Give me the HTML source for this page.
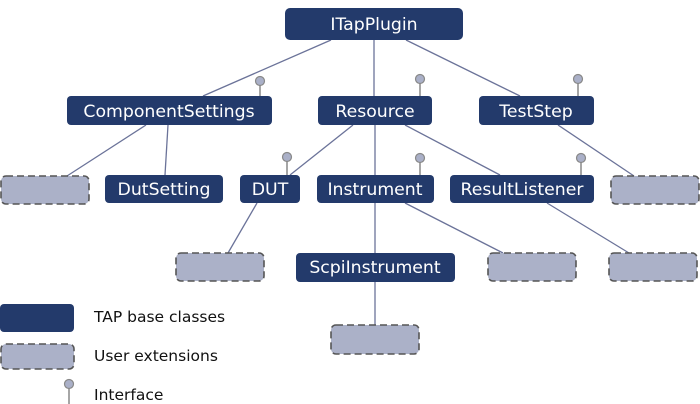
<!DOCTYPE html>
<html><head><style>
html,body{margin:0;padding:0;background:#fff;}
svg{display:block;}
text{font-family:"DejaVu Sans",Verdana,sans-serif;}
</style></head><body>
<svg width="700" height="404" viewBox="0 0 700 404" xmlns="http://www.w3.org/2000/svg">
<g stroke="#6b7399" stroke-width="1.3" fill="none">
<line x1="331" y1="40" x2="203" y2="96"/>
<line x1="374" y1="40" x2="374" y2="96"/>
<line x1="406" y1="40" x2="520" y2="96"/>
<line x1="146" y1="125" x2="67" y2="176"/>
<line x1="168" y1="125" x2="165" y2="175"/>
<line x1="353" y1="125" x2="290" y2="175"/>
<line x1="375" y1="125" x2="375" y2="175"/>
<line x1="405" y1="125" x2="500" y2="175"/>
<line x1="558" y1="125" x2="634" y2="176"/>
<line x1="257" y1="203" x2="228" y2="253"/>
<line x1="375" y1="203" x2="375" y2="253"/>
<line x1="405" y1="203" x2="503" y2="253"/>
<line x1="547" y1="203" x2="629" y2="253"/>
<line x1="375" y1="282" x2="375" y2="325"/>
</g>
<g stroke="#888" stroke-width="1.5">
<line x1="260" y1="81" x2="260" y2="96"/>
<line x1="420" y1="79" x2="420" y2="96"/>
<line x1="578" y1="79" x2="578" y2="96"/>
<line x1="287" y1="157" x2="287" y2="175"/>
<line x1="420" y1="158" x2="420" y2="175"/>
<line x1="581" y1="158" x2="581" y2="175"/>
<line x1="69" y1="385" x2="69" y2="404"/>
</g>
<g fill="#aab0c8" stroke="#888" stroke-width="1.2">
<circle cx="260" cy="81" r="4.5"/>
<circle cx="420" cy="79" r="4.5"/>
<circle cx="578" cy="79" r="4.5"/>
<circle cx="287" cy="157" r="4.5"/>
<circle cx="420" cy="158" r="4.5"/>
<circle cx="581" cy="158" r="4.5"/>
<circle cx="69" cy="384" r="4.5"/>
</g>
<g fill="#233a6b">
<rect x="285" y="8" width="178" height="32" rx="5"/>
<rect x="67" y="96" width="205" height="29" rx="4"/>
<rect x="318" y="96" width="114" height="29" rx="4"/>
<rect x="479" y="96" width="115" height="29" rx="4"/>
<rect x="105" y="175" width="118" height="28" rx="4"/>
<rect x="240" y="175" width="60" height="28" rx="4"/>
<rect x="317" y="175" width="117" height="28" rx="4"/>
<rect x="450" y="175" width="144" height="28" rx="4"/>
<rect x="296" y="253" width="159" height="29" rx="4"/>
<rect x="0" y="304" width="74" height="28" rx="4"/>
</g>
<g fill="#abb1c8" stroke="#555" stroke-width="1.6" stroke-dasharray="7,4">
<rect x="1" y="176" width="88" height="28" rx="5"/>
<rect x="611" y="176" width="88" height="28" rx="5"/>
<rect x="176" y="253" width="88" height="28" rx="5"/>
<rect x="488" y="253" width="88" height="28" rx="5"/>
<rect x="609" y="253" width="88" height="28" rx="5"/>
<rect x="331" y="325" width="88" height="29" rx="5"/>
<rect x="1" y="344" width="73" height="25" rx="5"/>
</g>
<g fill="#fff" font-size="17.3" text-anchor="middle">
<text x="374" y="30">ITapPlugin</text>
<text x="169" y="117">ComponentSettings</text>
<text x="375" y="117">Resource</text>
<text x="536" y="117">TestStep</text>
<text x="164" y="195">DutSetting</text>
<text x="270" y="195">DUT</text>
<text x="375" y="195">Instrument</text>
<text x="522" y="195">ResultListener</text>
<text x="375" y="273">ScpiInstrument</text>
</g>
<g fill="#111" font-size="15.5">
<text x="94" y="322">TAP base classes</text>
<text x="94" y="361">User extensions</text>
<text x="94" y="400">Interface</text>
</g>
</svg>
</body></html>
